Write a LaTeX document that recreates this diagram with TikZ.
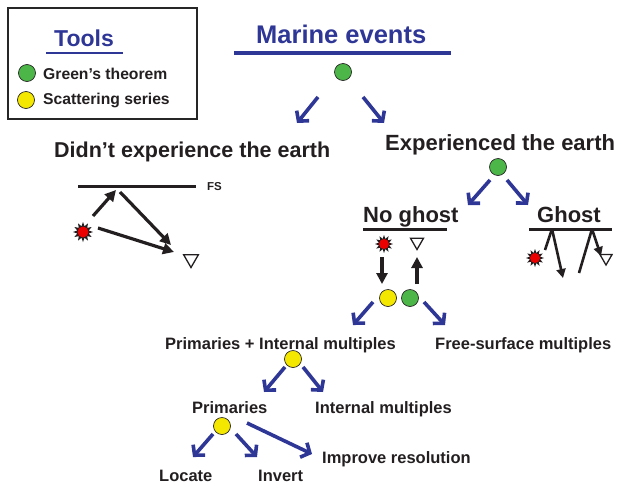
\documentclass[tikz,border=0pt]{standalone}
\usepackage{fontspec}
\setmainfont{Liberation Sans}
\usetikzlibrary{arrows.meta,shapes.geometric}
\definecolor{mblue}{RGB}{46,54,150}
\definecolor{txt}{RGB}{35,31,32}
\definecolor{cgreen}{RGB}{76,183,72}
\definecolor{cyellow}{RGB}{245,232,0}
\begin{document}
\begin{tikzpicture}[x=1pt,y=-1pt,
  lbl/.style={font=\bfseries\fontsize{16.5}{18}\selectfont, text=txt, inner sep=0pt, anchor=base west},
  leg/.style={font=\bfseries\fontsize{15.7}{18}\selectfont, text=txt, inner sep=0pt, anchor=base west},
  head/.style={font=\bfseries\fontsize{22}{24}\selectfont, text=txt, inner sep=0pt, anchor=base west},
  bluehead/.style={font=\bfseries\fontsize{23}{26}\selectfont, text=mblue, inner sep=0pt, anchor=base west},
  dotc/.style={circle, draw=black!85, line width=0.7pt, minimum size=17pt, inner sep=0pt},
  gdot/.style={dotc, fill=cgreen},
  ydot/.style={dotc, fill=cyellow},
  barrow/.style={draw=mblue, line width=3.6pt, -{Straight Barb[length=7pt,width=16pt]}},
  karrow/.style={draw=txt, line width=3.2pt, -{Triangle[length=11pt,width=11pt]}},
  kline/.style={draw=txt, line width=3.2pt},
  surf/.style={draw=txt, line width=3pt},
  bline/.style={draw=mblue, line width=3.2pt},
  rcv/.style={regular polygon, regular polygon sides=3, shape border rotate=180, draw=txt, fill=white, line width=1.3pt, minimum size=17pt, inner sep=0pt},
  starbg/.style={star, star points=12, star point ratio=1.7, fill=txt, draw=none, minimum size=20pt, inner sep=0pt},
  reddot/.style={circle, fill=red!92!black, minimum size=11pt, inner sep=0pt}
]
\useasboundingbox (0,0) rectangle (620,485);

% legend
\node[draw=black!85, line width=1.8pt, minimum width=189pt, minimum height=111pt, inner sep=0pt] (legbox) at (102.5,63.5) {};
\node[bluehead] (tools) at (54,46.5) {Tools};
\coordinate (tu1) at (46,53); \coordinate (tu2) at (123,53);
\draw[bline, line width=2.6pt] (tu1) -- (tu2);
\node[gdot] (lg) at (27,73) {};
\node[leg] (lgt) at (43,79) {Green’s theorem};
\node[ydot] (ly) at (26,100) {};
\node[leg] (lyt) at (43,104) {Scattering series};

% marine events
\node[bluehead, font=\bfseries\fontsize{25.5}{27}\selectfont] (marine) at (256,43) {Marine events};
\coordinate (mu1) at (234,53); \coordinate (mu2) at (451,53);
\draw[bline] (mu1) -- (mu2);
\node[gdot] (mg) at (343,72) {};
\coordinate (a1s) at (318,97); \coordinate (a1e) at (297,123);
\coordinate (a2s) at (363,97); \coordinate (a2e) at (384,123);
\draw[barrow] (a1s) -- (a1e);
\draw[barrow] (a2s) -- (a2e);

% didn't experience
\node[head, font=\bfseries\fontsize{21.5}{24}\selectfont] (didnt) at (54,157) {Didn’t experience the earth};
\coordinate (fs1) at (78,186); \coordinate (fs2) at (196,186);
\draw[surf] (fs1) -- (fs2);
\node[font=\bfseries\fontsize{11.5}{13}\selectfont, text=txt, inner sep=0pt, anchor=base west] (fs) at (207,190.5) {FS};
\node[starbg] (s1) at (83,232) {};
\node[reddot] (s1c) at (s1) {};
\node[rcv] (r1) at (191,259) {};
\coordinate (d1s) at (93,216); \coordinate (d1e) at (116,190);
\coordinate (d2s) at (120,192); \coordinate (d2e) at (171,245);
\coordinate (d3s) at (98,228); \coordinate (d3e) at (174,252);
\draw[karrow] (d1s) -- (d1e);
\draw[karrow] (d2s) -- (d2e);
\draw[karrow] (d3s) -- (d3e);

% experienced
\node[head] (exp) at (385,150) {Experienced the earth};
\node[gdot] (eg) at (498,167) {};
\coordinate (b1s) at (490,180); \coordinate (b1e) at (468,205);
\coordinate (b2s) at (507,180); \coordinate (b2e) at (528,205);
\draw[barrow] (b1s) -- (b1e);
\draw[barrow] (b2s) -- (b2e);

% no ghost
\node[head] (nog) at (363,222) {No ghost};
\coordinate (nu1) at (363,229); \coordinate (nu2) at (447,229);
\draw[surf] (nu1) -- (nu2);
\node[starbg, minimum size=18pt] (s2) at (384,244) {};
\node[reddot, minimum size=10pt] (s2c) at (s2) {};
\node[rcv, minimum size=15pt] (r2) at (417,242) {};
\coordinate (n1s) at (382,257); \coordinate (n1e) at (382,284);
\coordinate (n2s) at (417,284); \coordinate (n2e) at (417,257);
\draw[karrow] (n1s) -- (n1e);
\draw[karrow] (n2s) -- (n2e);
\node[ydot] (ny) at (388,298) {};
\node[gdot] (ng) at (410,298) {};
\coordinate (c1s) at (373,302); \coordinate (c1e) at (353,325);
\coordinate (c2s) at (424,302); \coordinate (c2e) at (445,325);
\draw[barrow] (c1s) -- (c1e);
\draw[barrow] (c2s) -- (c2e);

% ghost
\node[head] (gh) at (537,222) {Ghost};
\coordinate (gu1) at (529,229); \coordinate (gu2) at (612,229);
\draw[surf] (gu1) -- (gu2);
\node[starbg, minimum size=18pt] (s3) at (535,258) {};
\node[reddot, minimum size=10pt] (s3c) at (s3) {};
\node[rcv, minimum size=14pt] (r3) at (606,258) {};
\coordinate (g1a) at (545,250); \coordinate (g1b) at (552,229); \coordinate (g1c) at (563,278);
\coordinate (g2a) at (579,273); \coordinate (g2b) at (592,229); \coordinate (g2c) at (601,256);
\draw[kline, line width=2.6pt] (g1a) -- (g1b);
\draw[karrow, line width=2.6pt, -{Triangle[length=9pt,width=9pt]}] (g1b) -- (g1c);
\draw[kline, line width=2.6pt] (g2a) -- (g2b);
\draw[karrow, line width=2.6pt, -{Triangle[length=9pt,width=9pt]}] (g2b) -- (g2c);

% lower tree
\node[lbl] (pim) at (165,349) {Primaries + Internal multiples};
\node[lbl] (fsm) at (435,349) {Free-surface multiples};
\node[ydot] (py) at (293,359) {};
\coordinate (e1s) at (285,367); \coordinate (e1e) at (264,392);
\coordinate (e2s) at (303,367); \coordinate (e2e) at (323,392);
\draw[barrow] (e1s) -- (e1e);
\draw[barrow] (e2s) -- (e2e);
\node[lbl] (prim) at (192,413) {Primaries};
\node[lbl] (im) at (315,413) {Internal multiples};
\node[ydot] (qy) at (222,426) {};
\coordinate (f1s) at (213,434); \coordinate (f1e) at (193,457);
\coordinate (f2s) at (236,434); \coordinate (f2e) at (257,457);
\coordinate (f3s) at (247,423); \coordinate (f3e) at (312,454);
\draw[barrow] (f1s) -- (f1e);
\draw[barrow] (f2s) -- (f2e);
\draw[barrow] (f3s) -- (f3e);
\node[lbl] (imp) at (322,463) {Improve resolution};
\node[lbl] (loc) at (159,481) {Locate};
\node[lbl] (inv) at (258,481) {Invert};
\end{tikzpicture}
\end{document}
